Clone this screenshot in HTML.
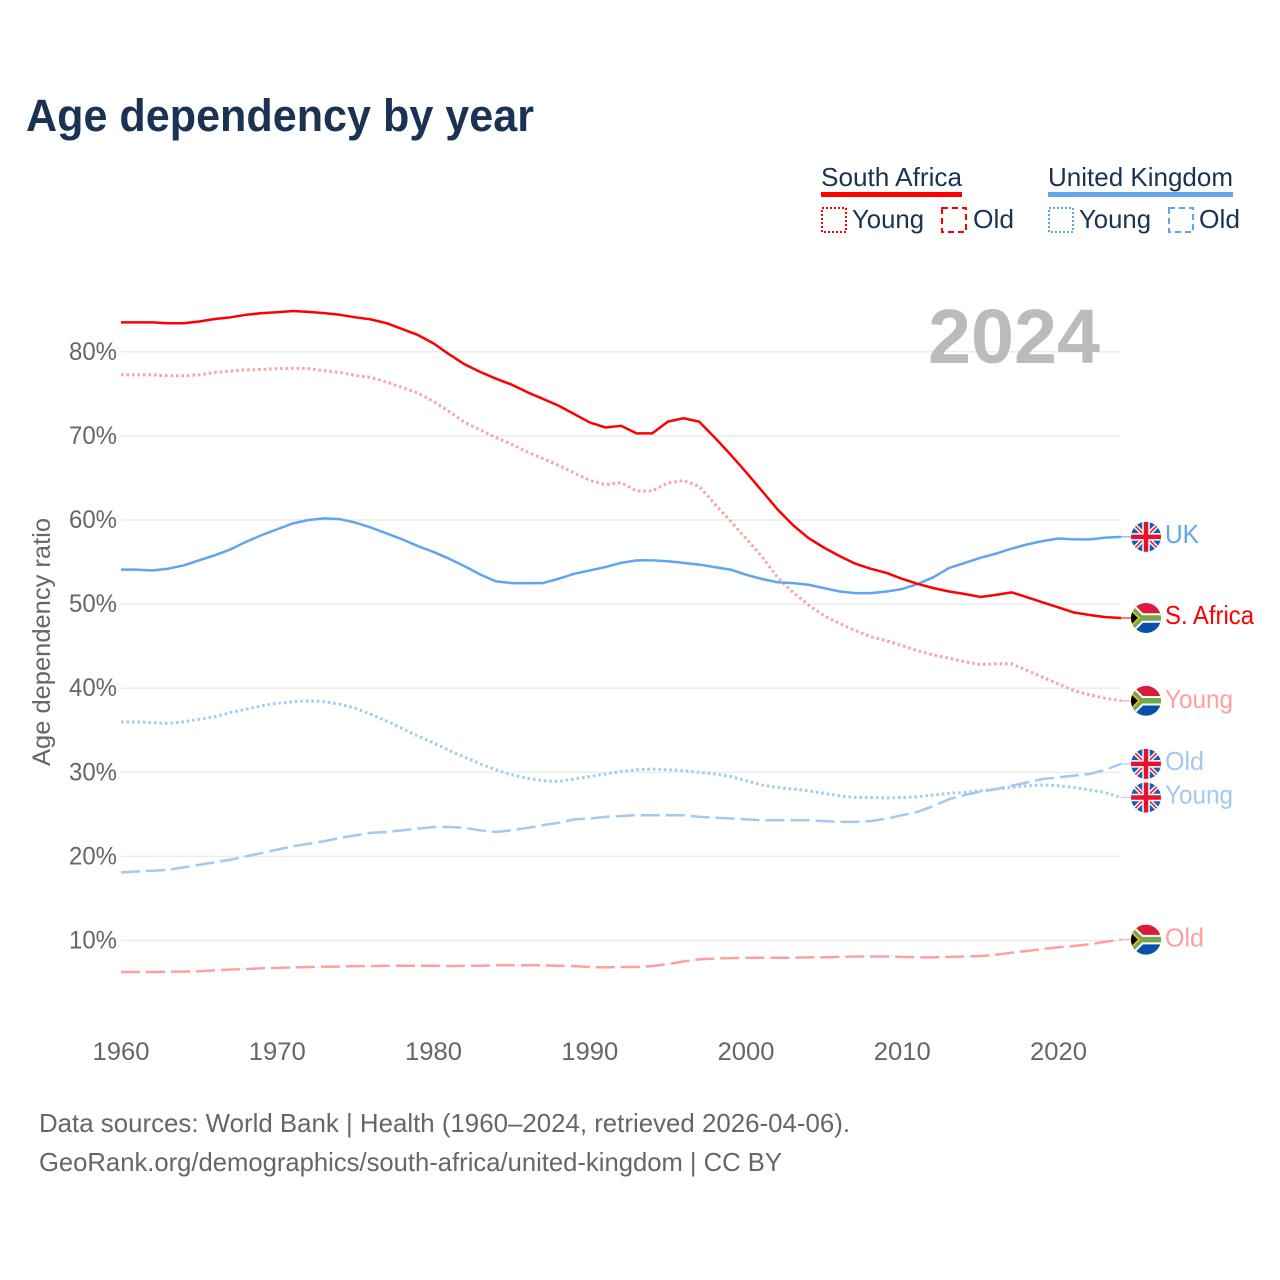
<!DOCTYPE html>
<html lang="en">
<head>
<meta charset="utf-8">
<title>Age dependency by year</title>
<style>
html,body{margin:0;padding:0;background:#fff;width:1280px;height:1280px;overflow:hidden}
svg{display:block}
text{font-family:"Liberation Sans",sans-serif}
.navy{fill:#1a3353}
.gray{fill:#666}
.leg{font-size:26px;fill:#1a3353}
.end{font-size:26px}
</style>
</head>
<body>
<svg id="chart" xmlns="http://www.w3.org/2000/svg" width="1280" height="1280" viewBox="0 0 1280 1280">
<defs>
<clipPath id="flag-clip"><circle cx="0" cy="0" r="15"/></clipPath>
<symbol id="flag-uk" overflow="visible">
<g clip-path="url(#flag-clip)">
<rect x="-15" y="-15" width="30" height="30" fill="#1160b4"/>
<path d="M-15-15L15 15M15-15L-15 15" stroke="#fff" stroke-width="4.5"/>
<path d="M-15-15L15 15M15-15L-15 15" stroke="#e8112d" stroke-width="1.5"/>
<path d="M0-15V15M-15 0H15" stroke="#fff" stroke-width="7.5"/>
<path d="M0-15V15M-15 0H15" stroke="#e8112d" stroke-width="4.5"/>
</g>
</symbol>
<symbol id="flag-za" overflow="visible">
<g clip-path="url(#flag-clip)">
<rect x="-15" y="-15" width="30" height="15" fill="#de1a3c"/>
<rect x="-15" y="0" width="30" height="15" fill="#0a4fa8"/>
<path d="M-20-15L-5 0L-20 15M-5 0H15" fill="none" stroke="#fff" stroke-width="9.5"/>
<path d="M-20-15L-5 0L-20 15M-5 0H15" fill="none" stroke="#74a84a" stroke-width="5.5"/>
<path d="M-17-10L-7 0L-17 10Z" fill="#000" stroke="#f2c230" stroke-width="1.6"/>
</g>
</symbol>
</defs>

<text class="navy" x="26" y="131" font-size="45" font-weight="700" textLength="508" lengthAdjust="spacingAndGlyphs">Age dependency by year</text>

<g>
<g>
<text class="leg" x="821" y="186" textLength="141" lengthAdjust="spacingAndGlyphs">South Africa</text>
<rect x="821" y="192" width="141" height="5" fill="#ff0000"/>
<rect x="822" y="208" width="24" height="24" fill="none" stroke="#ff0000" stroke-width="2" stroke-dasharray="2 2"/>
<text class="leg" x="852" y="228" textLength="72" lengthAdjust="spacingAndGlyphs">Young</text>
<rect x="942" y="208" width="24" height="24" fill="none" stroke="#ff0000" stroke-width="2" stroke-dasharray="6 4"/>
<text class="leg" x="973" y="228" textLength="41" lengthAdjust="spacingAndGlyphs">Old</text>
</g>
<g>
<text class="leg" x="1048" y="186" textLength="185" lengthAdjust="spacingAndGlyphs">United Kingdom</text>
<rect x="1048" y="192" width="185" height="5" fill="#60a5ee"/>
<rect x="1049" y="208" width="24" height="24" fill="none" stroke="#60a5ee" stroke-width="2" stroke-dasharray="2 2"/>
<text class="leg" x="1079" y="228" textLength="72" lengthAdjust="spacingAndGlyphs">Young</text>
<rect x="1169" y="208" width="24" height="24" fill="none" stroke="#60a5ee" stroke-width="2" stroke-dasharray="6 4"/>
<text class="leg" x="1199" y="228" textLength="41" lengthAdjust="spacingAndGlyphs">Old</text>
</g>
</g>

<g id="grid"></g>
<g id="y-axis"></g>
<g id="x-axis"></g>

<text class="gray" font-size="25" text-anchor="middle" transform="translate(50,642) rotate(-90)" textLength="248" lengthAdjust="spacingAndGlyphs">Age dependency ratio</text>

<text x="1100" y="363" font-size="77" font-weight="700" fill="#bbbbbb" text-anchor="end" textLength="172" lengthAdjust="spacingAndGlyphs">2024</text>

<g id="lines"></g>

<g id="end-uk-total">
<use href="#flag-uk" x="1146" y="0"/>
<text class="end" x="1165" y="6" fill="#60a5ee" textLength="34" lengthAdjust="spacingAndGlyphs">UK</text>
</g>
<g id="end-sa-total">
<use href="#flag-za" x="1146" y="0"/>
<text class="end" x="1165" y="6" fill="#ff0000" textLength="89" lengthAdjust="spacingAndGlyphs">S. Africa</text>
</g>
<g id="end-sa-young">
<use href="#flag-za" x="1146" y="0"/>
<text class="end" x="1165" y="7" fill="#ff9f9f" textLength="68" lengthAdjust="spacingAndGlyphs">Young</text>
</g>
<g id="end-uk-old">
<use href="#flag-uk" x="1146" y="0"/>
<text class="end" x="1165" y="6" fill="#a2c9f3" textLength="39" lengthAdjust="spacingAndGlyphs">Old</text>
</g>
<g id="end-uk-young">
<use href="#flag-uk" x="1146" y="0"/>
<text class="end" x="1165" y="6" fill="#a2c9f3" textLength="68" lengthAdjust="spacingAndGlyphs">Young</text>
</g>
<g id="end-sa-old">
<use href="#flag-za" x="1146" y="0"/>
<text class="end" x="1165" y="7" fill="#ff9f9f" textLength="39" lengthAdjust="spacingAndGlyphs">Old</text>
</g>

<text class="gray" x="39" y="1132" font-size="26" textLength="811" lengthAdjust="spacingAndGlyphs">Data sources: World Bank | Health (1960–2024, retrieved 2026-04-06).</text>
<text class="gray" x="39" y="1171" font-size="26" textLength="743" lengthAdjust="spacingAndGlyphs">GeoRank.org/demographics/south-africa/united-kingdom | CC BY</text>
</svg>

<script>
const firstYear = 1960;
const yTickValues = [10, 20, 30, 40, 50, 60, 70, 80];
const xTickValues = [1960, 1970, 1980, 1990, 2000, 2010, 2020];

const saTotal = [83.5,83.5,83.5,83.4,83.4,83.6,83.9,84.1,84.4,84.6,84.7,84.85,84.75,84.6,84.4,84.1,83.85,83.4,82.7,82.0,81.0,79.7,78.5,77.6,76.8,76.1,75.2,74.4,73.6,72.6,71.6,71.0,71.2,70.3,70.3,71.7,72.1,71.7,69.8,67.8,65.7,63.5,61.3,59.4,57.85,56.7,55.7,54.8,54.2,53.7,53.0,52.4,51.9,51.5,51.2,50.85,51.1,51.4,50.8,50.2,49.6,49.0,48.7,48.45,48.35];
const saYoung = [77.25,77.25,77.25,77.15,77.15,77.25,77.55,77.7,77.85,77.9,78.0,78.05,78.0,77.75,77.55,77.2,76.95,76.4,75.75,75.1,74.1,72.9,71.6,70.7,69.8,69.0,68.1,67.3,66.5,65.6,64.7,64.2,64.45,63.45,63.45,64.4,64.7,64.0,61.9,59.9,57.8,55.7,53.2,51.4,49.9,48.6,47.7,46.85,46.1,45.65,45.05,44.45,43.95,43.55,43.15,42.8,42.9,42.9,42.1,41.3,40.5,39.7,39.2,38.8,38.5];
const saOld = [6.25,6.25,6.25,6.3,6.3,6.35,6.45,6.55,6.6,6.7,6.75,6.8,6.85,6.9,6.9,6.95,6.95,7.0,7.0,7.0,7.0,6.95,7.0,7.0,7.05,7.05,7.05,7.05,7.0,6.95,6.85,6.8,6.85,6.85,6.95,7.2,7.5,7.75,7.85,7.9,7.95,7.95,7.95,7.95,8.0,8.0,8.05,8.1,8.1,8.1,8.05,8.0,8.0,8.05,8.1,8.15,8.3,8.55,8.75,9.0,9.2,9.35,9.55,9.85,10.1];
const ukTotal = [54.1,54.1,54.0,54.2,54.6,55.2,55.8,56.5,57.4,58.2,58.9,59.6,60.0,60.2,60.1,59.7,59.1,58.4,57.7,56.9,56.2,55.4,54.5,53.5,52.7,52.5,52.5,52.5,53.0,53.6,54.0,54.4,54.9,55.2,55.2,55.1,54.9,54.7,54.4,54.1,53.5,53.0,52.6,52.5,52.3,51.9,51.5,51.3,51.3,51.5,51.8,52.4,53.2,54.3,54.9,55.5,56.0,56.6,57.1,57.5,57.8,57.7,57.7,57.9,58.0];
const ukYoung = [36.0,36.0,35.9,35.8,36.0,36.3,36.6,37.1,37.5,37.9,38.2,38.4,38.5,38.4,38.1,37.6,36.9,36.1,35.2,34.3,33.5,32.6,31.8,31.0,30.3,29.7,29.3,29.0,28.9,29.2,29.5,29.8,30.1,30.3,30.4,30.3,30.2,30.0,29.8,29.5,29.0,28.5,28.2,28.0,27.8,27.5,27.2,27.0,27.0,26.95,27.0,27.1,27.3,27.5,27.6,27.8,28.0,28.2,28.4,28.5,28.4,28.2,27.9,27.6,27.0];
const ukOld = [18.1,18.2,18.3,18.4,18.7,19.0,19.3,19.6,20.0,20.4,20.8,21.2,21.5,21.8,22.2,22.5,22.8,22.9,23.1,23.3,23.5,23.5,23.4,23.1,22.9,23.1,23.4,23.7,24.0,24.4,24.5,24.7,24.8,24.9,24.9,24.9,24.9,24.7,24.6,24.5,24.4,24.3,24.3,24.3,24.3,24.2,24.1,24.1,24.2,24.5,24.9,25.3,26.0,26.8,27.3,27.7,28.0,28.4,28.8,29.2,29.4,29.6,29.8,30.3,31.0];

const NS = 'http://www.w3.org/2000/svg';
function xScale(year) { return 121 + (year - 1960) * 15.625; }
function yScale(v) { return 1024.6 - v * 8.41; }

const gridG = document.getElementById('grid');
const yAxisG = document.getElementById('y-axis');
const xAxisG = document.getElementById('x-axis');
const linesG = document.getElementById('lines');

yTickValues.forEach(function (v) {
  const ln = document.createElementNS(NS, 'line');
  
  
  ln.setAttribute('x1', 121);
  ln.setAttribute('x2', 1120);
  ln.setAttribute('y1', yScale(v));
  ln.setAttribute('y2', yScale(v));
  ln.setAttribute('stroke', '#ececec');
  ln.setAttribute('stroke-width', '1.5');
  gridG.appendChild(ln);
  const t = document.createElementNS(NS, 'text');
  
  
  t.setAttribute('class', 'gray');
  t.setAttribute('x', 117);
  t.setAttribute('y', yScale(v) + 8);
  t.setAttribute('font-size', '25');
  t.setAttribute('text-anchor', 'end');
  t.setAttribute('textLength', '48');
  t.setAttribute('lengthAdjust', 'spacingAndGlyphs');
  t.textContent = v + '%';
  yAxisG.appendChild(t);
});

xTickValues.forEach(function (yr) {
  const t = document.createElementNS(NS, 'text');
  
  
  t.setAttribute('class', 'gray');
  t.setAttribute('x', xScale(yr));
  t.setAttribute('y', 1060);
  t.setAttribute('font-size', '25');
  t.setAttribute('text-anchor', 'middle');
  t.setAttribute('textLength', '57');
  t.setAttribute('lengthAdjust', 'spacingAndGlyphs');
  t.textContent = yr;
  xAxisG.appendChild(t);
});

function drawSeries(values, name, color, dash, widthPx, endId) {
  const d = values.map(function (v, i) {
    return (i ? 'L' : 'M') + xScale(firstYear + i).toFixed(2) + ' ' + yScale(v).toFixed(2);
  }).join('');
  const lastY = yScale(values[values.length - 1]);
  const p = document.createElementNS(NS, 'path');
  
  
  p.setAttribute('d', d);
  p.setAttribute('fill', 'none');
  p.setAttribute('stroke', color);
  p.setAttribute('stroke-width', widthPx);
  p.setAttribute('stroke-linejoin', 'round');
  if (dash) p.setAttribute('stroke-dasharray', dash);
  linesG.appendChild(p);
  const c = document.createElementNS(NS, 'line');
  
  
  c.setAttribute('x1', xScale(firstYear + values.length - 1));
  c.setAttribute('x2', 1132);
  c.setAttribute('y1', lastY);
  c.setAttribute('y2', lastY);
  c.setAttribute('stroke', color);
  c.setAttribute('stroke-width', '1.5');
  c.setAttribute('opacity', '0.7');
  linesG.appendChild(c);
  document.getElementById(endId).setAttribute('transform', 'translate(0,' + lastY.toFixed(2) + ')');
}

drawSeries(saOld, 'line-south-africa-old', '#ff9f9f', '19 6', '2.5', 'end-sa-old');
drawSeries(ukOld, 'line-uk-old', '#a2c9f3', '19 6', '2.5', 'end-uk-old');
drawSeries(ukYoung, 'line-uk-young', '#a2c9f3', '2.5 3', '3', 'end-uk-young');
drawSeries(saYoung, 'line-south-africa-young', '#ff9f9f', '2.5 3', '3', 'end-sa-young');
drawSeries(ukTotal, 'line-uk-total', '#60a5ee', '', '2.5', 'end-uk-total');
drawSeries(saTotal, 'line-south-africa-total', '#ff0000', '', '2.5', 'end-sa-total');
</script>
</body>
</html>
